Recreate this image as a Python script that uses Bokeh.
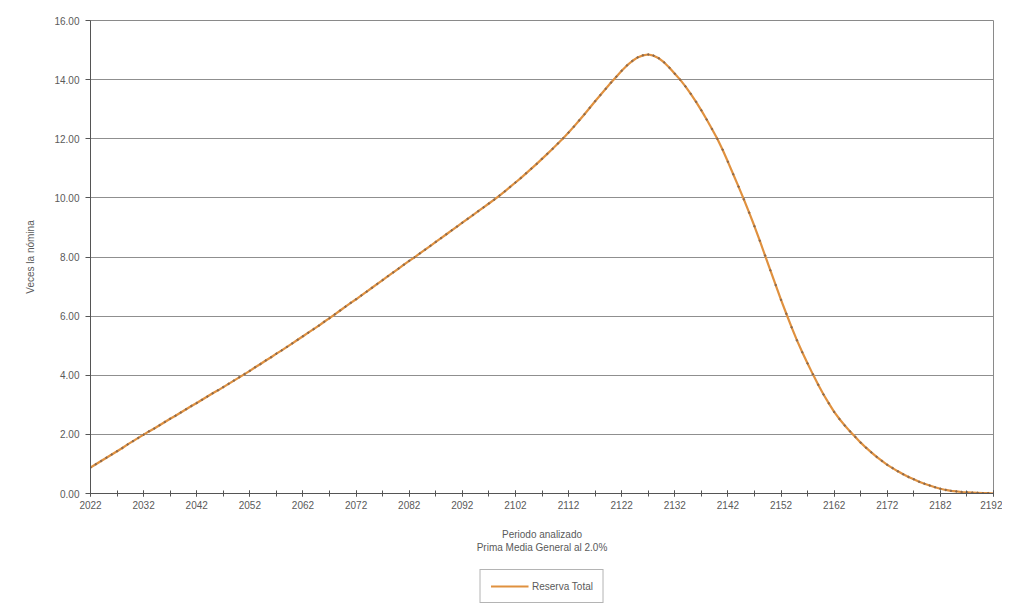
from bokeh.plotting import figure
from bokeh.layouts import column
from bokeh.embed import file_html
from bokeh.resources import INLINE
from bokeh.models import FixedTicker, NumeralTickFormatter, Legend, LegendItem, ColumnDataSource, Range1d

years = list(range(2022, 2193))
reserva_total = [
    0.88, 0.99, 1.10, 1.21, 1.32, 1.43, 1.54, 1.66, 1.77, 1.88,
    1.99, 2.10, 2.20, 2.31, 2.42, 2.53, 2.63, 2.74, 2.85, 2.96,
    3.06, 3.17, 3.28, 3.39, 3.49, 3.60, 3.71, 3.82, 3.93, 4.04,
    4.15, 4.27, 4.38, 4.50, 4.61, 4.73, 4.84, 4.96, 5.08, 5.20,
    5.32, 5.44, 5.56, 5.68, 5.81, 5.93, 6.06, 6.19, 6.32, 6.45,
    6.57, 6.70, 6.83, 6.96, 7.09, 7.22, 7.35, 7.48, 7.61, 7.74,
    7.87, 7.99, 8.12, 8.25, 8.38, 8.51, 8.64, 8.77, 8.90, 9.03,
    9.16, 9.29, 9.42, 9.55, 9.68, 9.81, 9.94, 10.08, 10.22, 10.37,
    10.52, 10.67, 10.83, 10.99, 11.15, 11.32, 11.49, 11.66, 11.84, 12.02,
    12.21, 12.41, 12.62, 12.83, 13.05, 13.27, 13.48, 13.69, 13.90, 14.10,
    14.30, 14.48, 14.63, 14.75, 14.82, 14.85, 14.81, 14.72, 14.58, 14.40,
    14.20, 14.00, 13.77, 13.52, 13.25, 12.96, 12.65, 12.33, 12.00, 11.63,
    11.22, 10.80, 10.38, 9.95, 9.50, 9.04, 8.55, 8.05, 7.55, 7.05,
    6.55, 6.08, 5.62, 5.18, 4.78, 4.40, 4.03, 3.68, 3.35, 3.05,
    2.76, 2.52, 2.30, 2.10, 1.91, 1.72, 1.55, 1.39, 1.24, 1.10,
    0.97, 0.86, 0.75, 0.65, 0.56, 0.48, 0.40, 0.33, 0.27, 0.21,
    0.16, 0.12, 0.09, 0.07, 0.05, 0.04, 0.03, 0.02, 0.01, 0.01,
    0.00,
]
x_ticks = list(range(2022, 2193, 10))
x_minor = list(range(2022, 2193, 5))
y_ticks = [0, 2, 4, 6, 8, 10, 12, 14, 16]
series_name = "Reserva Total"

FONT = "Liberation Sans"
TXT = "#5a5a5a"
LINE = "#E0913F"

src = ColumnDataSource(dict(year=years, val=reserva_total))

p = figure(width=1002, height=566, output_backend="svg", toolbar_location=None,
           x_range=Range1d(2022, 2192), y_range=Range1d(0, 16),
           frame_width=903, frame_height=473,
           min_border_left=90, min_border_right=9, min_border_top=20, min_border_bottom=73)
p.background_fill_color = "white"
p.border_fill_color = "white"
p.outline_line_color = "#8a8a8a"

r = p.line("year", "val", source=src, line_color=LINE, line_width=2.2)
p.scatter("year", "val", source=src, size=1.6, color="#8C6A4E")

p.xaxis.ticker = FixedTicker(ticks=x_ticks, minor_ticks=x_minor)
p.yaxis.ticker = FixedTicker(ticks=y_ticks)
p.yaxis.formatter = NumeralTickFormatter(format="0.00")
p.xgrid.visible = False
p.ygrid.grid_line_color = "#8f8f8f"
p.ygrid.grid_line_width = 1

for ax in (p.xaxis[0], p.yaxis[0]):
    ax.axis_line_color = "#555555"
    ax.major_tick_line_color = "#555555"
    ax.minor_tick_line_color = "#555555"
    ax.major_label_text_font = FONT
    ax.major_label_text_font_size = "10px"
    ax.major_label_text_color = TXT
    ax.axis_label_text_font = FONT
    ax.axis_label_text_font_size = "10px"
    ax.axis_label_text_color = TXT
    ax.axis_label_text_font_style = "normal"

p.yaxis.major_tick_out = 5
p.yaxis.major_tick_in = 0
p.yaxis.major_label_standoff = 6
p.yaxis.axis_label = "Veces la nómina"
p.yaxis.axis_label_standoff = 15

p.xaxis.major_tick_out = 3
p.xaxis.major_tick_in = 3
p.xaxis.minor_tick_out = 3
p.xaxis.minor_tick_in = 3
p.xaxis.major_label_standoff = 4
p.xaxis.axis_label = "Periodo analizado\nPrima Media General al 2.0%"
p.xaxis.axis_label_standoff = 17

# Legend row below the chart (shares the series' name and line style)
lf = figure(width=1002, height=40, output_backend="svg", toolbar_location=None,
            x_range=Range1d(2022, 2192), y_range=Range1d(0, 16),
            min_border_left=90, min_border_right=9, min_border_top=0, min_border_bottom=0)
lf.axis.visible = False
lf.grid.visible = False
lf.outline_line_color = None
lf.border_fill_color = "white"
lr = lf.line("year", "val", source=src, line_color=LINE, line_width=2.2, line_alpha=1.0)
lr.visible = True
lf.y_range = Range1d(100, 116)  # keep the series out of view; only its legend entry shows
legend = Legend(items=[LegendItem(label=series_name, renderers=[lr])],
                location="center", orientation="horizontal",
                label_text_font=FONT, label_text_font_size="10px", label_text_color=TXT,
                border_line_color="#6a6a6a", border_line_width=1,
                glyph_width=38, glyph_height=12, padding=10, margin=0,
                label_standoff=4, spacing=0)
lf.add_layout(legend, "center")

open("out.html", "w").write(file_html(column(p, lf, spacing=0), INLINE))
